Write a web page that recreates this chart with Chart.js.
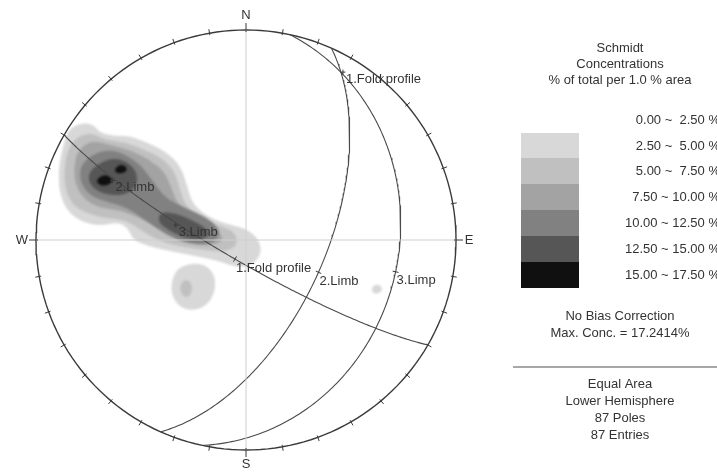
<!DOCTYPE html>
<html>
<head>
<meta charset="utf-8">
<script src="https://cdn.jsdelivr.net/npm/chart.js@4.4.1/dist/chart.umd.min.js"></script>
<style>
  html, body { margin: 0; padding: 0; background: #ffffff; }
  #wrap { width: 717px; height: 472px; position: relative; }
</style>
</head>
<body>
<div id="wrap"><canvas id="net" width="717" height="472"></canvas></div>
<script>
// Stereonet: Schmidt equal-area, lower hemisphere. Net radius = 100 units.
const R = 100;

// Planes (dip direction / dip, degrees)
const planeNames = ['1.Fold profile', '2.Limb', '3.Limp'];
const poleNames = ['1.Fold profile', '2.Limb', '3.Limb'];
const dipDirections = [210, 114, 102];
const dipAngles = [81.5, 59, 28];

// Concentration bins (% of total per 1.0 % area)
const binLabels = ['0.00 ~  2.50 %', '2.50 ~  5.00 %', '5.00 ~  7.50 %', '7.50 ~ 10.00 %',
                   '10.00 ~ 12.50 %', '12.50 ~ 15.00 %', '15.00 ~ 17.50 %'];
const binColors = ['#ffffff', '#d8d8d8', '#c0c0c0', '#a3a3a3', '#818181', '#565656', '#101010'];

// Density contours, net coordinates (x east, y north), one list per bin
const contour1 = [
  [[-84.8,52.4],[-79.0,55.7],[-72.9,55.2],[-69.5,51.0],[-62.4,49.5],[-55.2,49.5],[-46.7,46.2],[-38.6,42.4],
   [-31.4,35.7],[-28.1,26.2],[-25.7,17.6],[-19.5,11.9],[-10.0,7.6],[-0.5,5.7],[5.7,1.0],[7.6,-5.7],
   [3.8,-11.4],[-3.8,-13.3],[-11.4,-10.5],[-19.5,-8.6],[-29.0,-6.7],[-38.6,-4.8],[-46.7,-2.9],[-53.8,0],
   [-56.2,5.7],[-61.0,8.6],[-69.5,6.7],[-78.1,8.6],[-84.8,13.3],[-88.6,21.4],[-89.5,32.4],[-87.6,42.9]],
  [[-33.8,-14.3],[-26.7,-11.0],[-18.6,-11.9],[-14.3,-18.1],[-15.2,-26.2],[-19.5,-31.9],[-26.7,-33.8],
   [-32.9,-31.0],[-36.2,-23.8]],
  [[60.0,-21.9],[63.3,-21.0],[65.2,-23.3],[63.3,-25.7],[60.0,-25.2]]
];
const contour2 = [
  [[-82.9,47.6],[-74.3,51.4],[-67.1,47.6],[-57.6,46.7],[-48.1,42.9],[-40.0,39.0],[-33.8,32.4],[-31.4,23.8],
   [-29.0,16.7],[-21.9,10.5],[-12.4,6.7],[-5.2,3.8],[-3.8,-2.4],[-10.0,-5.7],[-19.5,-4.8],[-29.0,-3.3],
   [-38.6,-1.4],[-45.7,1.9],[-51.4,5.7],[-57.6,9.5],[-67.1,10.5],[-75.2,12.4],[-82.9,16.7],[-86.7,26.2],
   [-86.2,38.1]],
  [[-31.0,-20.0],[-27.1,-18.6],[-25.2,-23.3],[-27.6,-28.1],[-31.4,-25.2]]
];
const contour3 = [
  [[-80.0,42.9],[-73.3,47.6],[-64.8,45.2],[-55.2,42.9],[-45.7,38.1],[-38.6,32.4],[-35.2,23.8],[-32.4,16.7],
   [-24.3,11.0],[-14.8,5.7],[-10.0,0],[-17.1,-2.9],[-26.7,-1.4],[-35.2,1.9],[-41.0,5.7],[-50.5,10.5],
   [-60.0,14.3],[-69.5,15.2],[-76.7,19.0],[-81.4,26.2],[-81.9,35.7]]
];
const contour4 = [
  [[-79.0,35.7],[-71.4,41.9],[-61.9,42.9],[-51.4,37.1],[-44.8,28.6],[-38.6,20.0],[-29.0,15.2],[-18.1,10.5],
   [-11.4,3.8],[-16.2,-1.9],[-26.7,-1.9],[-37.1,1.9],[-46.7,8.6],[-56.2,15.2],[-65.7,18.1],[-74.3,21.0],
   [-79.0,27.6]]
];
const contour5 = [
  [[-74.3,33.3],[-67.1,38.1],[-60.0,39.0],[-52.9,34.3],[-51.4,27.6],[-55.2,22.4],[-62.4,21.0],[-70.5,22.9],
   [-75.2,27.6]],
  [[-41.0,13.3],[-33.8,12.9],[-25.7,9.5],[-19.0,5.7],[-17.1,1.9],[-22.9,0],[-30.5,1.4],[-37.1,4.8],[-41.9,8.6]]
];
const contour6 = [
  [[-71.4,28.6],[-68.1,31.0],[-64.8,30.5],[-63.3,28.1],[-66.2,25.7],[-70.0,26.2]],
  [[-62.9,33.3],[-60.0,36.2],[-56.7,34.8],[-57.1,32.4],[-61.0,31.4]]
];
const contours = [contour1, contour2, contour3, contour4, contour5, contour6];

const summaryTop = ['Schmidt', 'Concentrations', '% of total per 1.0 % area'];
const summaryMid = ['No Bias Correction', 'Max. Conc. = 17.2414%'];
const summaryLow = ['Equal Area', 'Lower Hemisphere', '87 Poles', '87 Entries'];

const DEG = Math.PI / 180;

// Equal-area projection of a line (trend, plunge)
function project(trend, plunge) {
  const r = R * Math.SQRT2 * Math.sin((90 - plunge) * DEG / 2);
  return { x: r * Math.sin(trend * DEG), y: r * Math.cos(trend * DEG) };
}

// Great circle of a plane, traced from strike to strike through the dip line
function greatCircle(dd, dip) {
  const s = (dd - 90) * DEG, d = dd * DEG, p = dip * DEG;
  const sv = [Math.cos(s), Math.sin(s), 0];
  const dv = [Math.cos(p) * Math.cos(d), Math.cos(p) * Math.sin(d), Math.sin(p)];
  const pts = [];
  for (let a = 0; a <= 180; a += 1) {
    const c = Math.cos(a * DEG), sn = Math.sin(a * DEG);
    const v = [c * sv[0] + sn * dv[0], c * sv[1] + sn * dv[1], c * sv[2] + sn * dv[2]];
    const trend = Math.atan2(v[1], v[0]) / DEG;
    const plunge = Math.asin(Math.max(-1, Math.min(1, v[2]))) / DEG;
    pts.push(project(trend, plunge));
  }
  return pts;
}

const primitive = [];
for (let a = 0; a <= 360; a += 2) primitive.push({ x: R * Math.sin(a * DEG), y: R * Math.cos(a * DEG) });

const lineStyle = { showLine: true, pointRadius: 0, pointHoverRadius: 0, fill: false, tension: 0 };
const datasets = [
  Object.assign({ data: [{ x: -R, y: 0 }, { x: R, y: 0 }], borderColor: '#cfcfcf', borderWidth: 1 }, lineStyle),
  Object.assign({ data: [{ x: 0, y: -R }, { x: 0, y: R }], borderColor: '#cfcfcf', borderWidth: 1 }, lineStyle),
  Object.assign({ data: primitive, borderColor: '#3a3a3a', borderWidth: 1.4 }, lineStyle)
];
planeNames.forEach((name, i) => {
  datasets.push(Object.assign({ label: name, data: greatCircle(dipDirections[i], dipAngles[i]),
    borderColor: '#4a4a4a', borderWidth: 1.1 }, lineStyle));
});

const FONT = '"Liberation Sans", Arial, sans-serif';

// Filled density bins under the line work
const contourPlugin = {
  id: 'contours',
  beforeDatasetsDraw(chart) {
    const { ctx, scales: { x, y } } = chart;
    ctx.save();
    ctx.filter = 'blur(1.2px)';
    contours.forEach((polys, li) => {
      ctx.fillStyle = binColors[li + 1];
      polys.forEach(poly => {
        const pts = poly.map(p => [x.getPixelForValue(p[0]), y.getPixelForValue(p[1])]);
        const n = pts.length;
        ctx.beginPath();
        const m0 = [(pts[n - 1][0] + pts[0][0]) / 2, (pts[n - 1][1] + pts[0][1]) / 2];
        ctx.moveTo(m0[0], m0[1]);
        for (let k = 0; k < n; k++) {
          const p = pts[k], q = pts[(k + 1) % n];
          ctx.quadraticCurveTo(p[0], p[1], (p[0] + q[0]) / 2, (p[1] + q[1]) / 2);
        }
        ctx.closePath();
        ctx.fill();
      });
    });
    ctx.restore();
  }
};

// Primitive ticks, cardinal letters, plane and pole annotations, concentration key
const annotatePlugin = {
  id: 'annotate',
  afterDatasetsDraw(chart) {
    const { ctx, scales: { x, y } } = chart;
    const px = v => x.getPixelForValue(v), py = v => y.getPixelForValue(v);
    const cx = px(0), cy = py(0), rp = px(R) - cx;
    ctx.save();
    ctx.strokeStyle = '#3a3a3a';
    ctx.lineWidth = 1;
    for (let a = 0; a < 360; a += 10) {
      const s = Math.sin(a * DEG), c = Math.cos(a * DEG);
      const r0 = rp - 2, r1 = rp + (a % 90 === 0 ? 7 : 4);
      ctx.beginPath();
      ctx.moveTo(cx + r0 * s, cy - r0 * c);
      ctx.lineTo(cx + r1 * s, cy - r1 * c);
      ctx.stroke();
    }
    ctx.fillStyle = '#333';
    ctx.font = '13px ' + FONT;
    ctx.textAlign = 'center';
    ctx.textBaseline = 'middle';
    ctx.fillText('N', cx, cy - rp - 15);
    ctx.fillText('S', cx, cy + rp + 14);
    ctx.fillText('W', cx - rp - 14, cy);
    ctx.fillText('E', cx + rp + 13, cy);

    ctx.textAlign = 'left';
    planeNames.forEach((name, i) => {
      const dd = dipDirections[i], dip = dipAngles[i];
      // mark on the dip line of the great circle
      const t = project(dd, dip);
      const tx = px(t.x), ty = py(t.y);
      const ux = Math.sin(dd * DEG), uy = -Math.cos(dd * DEG);
      ctx.beginPath();
      ctx.moveTo(tx - 3 * ux, ty - 3 * uy);
      ctx.lineTo(tx + 3 * ux, ty + 3 * uy);
      ctx.stroke();
      ctx.fillText(name, tx + 1, ty + 9);
      // pole of the plane
      const p = project(dd + 180, 90 - dip);
      const ppx = px(p.x), ppy = py(p.y);
      ctx.beginPath();
      ctx.moveTo(ppx - 2.5, ppy); ctx.lineTo(ppx + 2.5, ppy);
      ctx.moveTo(ppx, ppy - 2.5); ctx.lineTo(ppx, ppy + 2.5);
      ctx.stroke();
      ctx.fillText(poleNames[i], ppx + 3, ppy + 7);
    });

    // concentration key
    ctx.textAlign = 'center';
    summaryTop.forEach((s, i) => ctx.fillText(s, 620, 48 + i * 16));
    ctx.textAlign = 'right';
    const rowY = [120, 146, 171, 197, 223, 249, 275];
    binLabels.forEach((s, i) => ctx.fillText(s, 720, rowY[i]));
    for (let i = 1; i < binColors.length; i++) {
      ctx.fillStyle = binColors[i];
      ctx.fillRect(521, rowY[i] - 13, 58, 26);
    }
    ctx.fillStyle = '#333';
    ctx.textAlign = 'center';
    summaryMid.forEach((s, i) => ctx.fillText(s, 620, 316 + i * 17));
    ctx.strokeStyle = '#8a8a8a';
    ctx.lineWidth = 1.5;
    ctx.beginPath();
    ctx.moveTo(513, 367); ctx.lineTo(717, 367);
    ctx.stroke();
    summaryLow.forEach((s, i) => ctx.fillText(s, 620, 384 + i * 17));
    ctx.restore();
  }
};

new Chart(document.getElementById('net'), {
  type: 'scatter',
  data: { datasets },
  options: {
    responsive: false,
    animation: false,
    devicePixelRatio: 1,
    layout: { padding: 0 },
    plugins: { legend: { display: false }, tooltip: { enabled: false } },
    scales: {
      x: { type: 'linear', display: false, min: -246 / 2.1, max: 471 / 2.1 },
      y: { type: 'linear', display: false, min: -232 / 2.1, max: 240 / 2.1 }
    }
  },
  plugins: [contourPlugin, annotatePlugin]
});
</script>
</body>
</html>
